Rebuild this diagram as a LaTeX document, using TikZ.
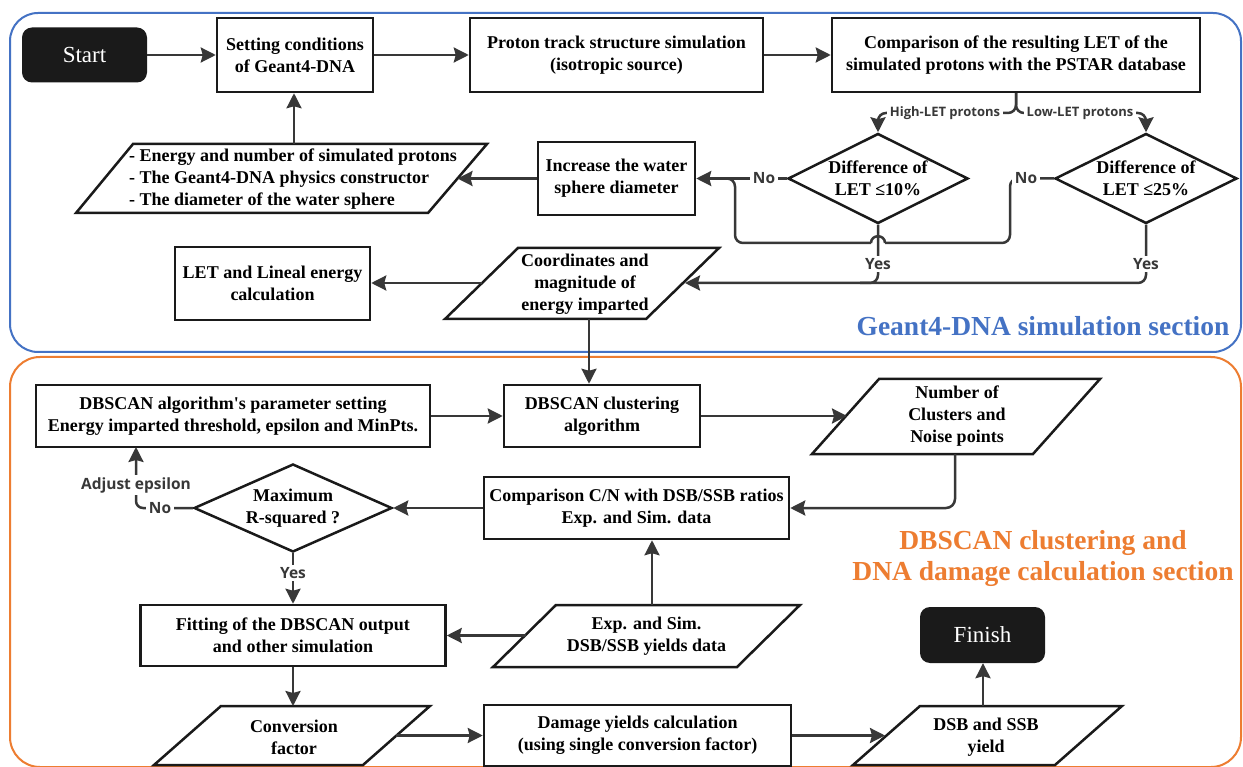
\documentclass[tikz,border=0pt]{standalone}
\usepackage{fontspec}
\usepackage{graphicx}
\setmainfont{Liberation Serif}
\newfontfamily\labfont{Open Sans}
\usetikzlibrary{arrows.meta,shapes.geometric}
\definecolor{gblue}{HTML}{4472C4}
\definecolor{dorange}{HTML}{ED7D31}
\definecolor{ink}{HTML}{1A1A1A}
\definecolor{wire}{HTML}{383838}
\tikzset{
  box/.style={draw=ink, line width=2.5pt, fill=white, align=center, inner sep=0pt, font=\fontsize{18}{22}\selectfont\bfseries},
  dia/.style={diamond, draw=ink, line width=2.5pt, fill=white, align=center, inner sep=0pt, font=\fontsize{18}{22}\selectfont\bfseries},
  pbox/.style={draw=ink, line width=2.5pt, fill=white, line join=miter},
  ptext/.style={align=center, inner sep=0pt, font=\fontsize{18}{22}\selectfont\bfseries},
  term/.style={fill=ink, rounded corners=10pt, text=white, inner sep=0pt, font=\fontsize{23}{26}\selectfont},
  ln/.style={draw=wire, line width=2.5pt},
  arr/.style={ln, -{Stealth[length=15pt,width=15pt,inset=2pt]}},
  lbl/.style={fill=white, text=wire, inner sep=2.5pt, font=\labfont\fontsize{15.5}{17}\selectfont\bfseries},
  lbls/.style={fill=white, text=wire, inner sep=2.5pt, font=\labfont\fontsize{13}{15}\selectfont\bfseries},
  title/.style={font=\fontsize{27.5}{31}\selectfont\bfseries, align=center, inner sep=0pt},
}
\begin{document}
\begin{tikzpicture}[x=1pt,y=-1pt]
\useasboundingbox (0,0) rectangle (1243,767);
\clip (0,0) rectangle (1243,767);
\fill[white] (0,0) rectangle (1243,767);
% section frames
\draw[gblue, line width=2pt, rounded corners=28pt] (10,13) rectangle (1241,352);
\draw[dorange, line width=2pt, rounded corners=30pt] (10,357) rectangle (1241,767);
\node[title, text=gblue] (t1) at (1043,326) {Geant4-DNA simulation section};
\node[title, text=dorange] (t2) at (1043,558) {DBSCAN clustering and\\DNA damage calculation section};

% ---------- Geant4-DNA section ----------
\node[term, minimum width=125, minimum height=55] (start) at (84.5,55) {Start};
\node[box, minimum width=156, minimum height=74] (set) at (295,55) {Setting conditions\\of Geant4-DNA};
\node[box, minimum width=293, minimum height=74] (pro) at (616.5,55) {Proton track structure simulation\\(isotropic source)};
\node[box, minimum width=368, minimum height=74] (cmp) at (1016,55) {Comparison of the resulting LET of the\\simulated protons with the PSTAR database};
\node[dia, aspect=2, minimum width=180, minimum height=90] (d1) at (878,178.5) {Difference of\\LET ≤10\%};
\node[dia, aspect=2, minimum width=182, minimum height=90] (d2) at (1146,178.5) {Difference of\\LET ≤25\%};
\node[box, minimum width=157, minimum height=73] (inc) at (616.5,178.5) {Increase the water\\sphere diameter};
\draw[pbox] (133,144) -- (487,144) -- (428,213) -- (76,213) -- cycle;
\node[ptext, align=left] (inp) at (293,179) {- Energy and number of simulated protons\\- The Geant4-DNA physics constructor\\- The diameter of the water sphere};
\node[box, minimum width=195, minimum height=73] (let) at (272.5,283.5) {LET and Lineal energy\\calculation};
\draw[pbox] (518,248) -- (719,248) -- (646,319) -- (445,319) -- cycle;
\node[ptext] (crd) at (585,284) {Coordinates and\\magnitude of\\energy imparted};
\coordinate (p1t) at (294,144);
\coordinate (p1r) at (457.5,178.5);
\coordinate (p2l) at (482,283);
\coordinate (p2r) at (685,283);
\coordinate (p2b) at (589,319);

\draw[arr] (start) -- (set);
\draw[arr] (set) -- (pro);
\draw[arr] (pro) -- (cmp);
\draw[arr] (p1t) -- (set.south -| p1t);
\draw[arr] (inc.west) -- (p1r);
\draw[arr] (d1.west) -- (inc.east);
\draw[ln, rounded corners=8pt] (d2.west) -| (1010,243) -- (885,243);
\draw[ln] (885,243) .. controls (885,234) and (871,234) .. (871,243);
\draw[ln, rounded corners=8pt] (871,243) -| (735,178.5) -- (720,178.5);
\draw[arr, rounded corners=8pt] (cmp.south) |- (878,113) -- (d1.north);
\draw[arr, rounded corners=8pt] (cmp.south) |- (1146,113) -- (d2.north);
\draw[ln, rounded corners=8pt] (d1.south) |- (860,283);
\draw[arr, rounded corners=8pt] (d2.south) |- (p2r);
\draw[arr] (p2l) -- (let.east |- p2l);
\node[lbl] (no1) at (764,178.5) {No};
\node[lbl] (no2) at (1026,178.5) {No};
\node[lbls] (hi) at (945,113) {High-LET protons};
\node[lbls] (lo) at (1080,113) {Low-LET protons};
\node[lbl] (yes1) at (878,264) {Yes};
\node[lbl] (yes2) at (1146,264) {Yes};

% ---------- DBSCAN section ----------
\node[box, minimum width=394, minimum height=62] (par) at (233,416) {DBSCAN algorithm\textquotesingle s parameter setting\\Energy imparted threshold, epsilon and MinPts.};
\node[box, minimum width=196, minimum height=62] (clu) at (602,416) {DBSCAN clustering\\algorithm};
\draw[pbox] (879,379) -- (1100,379) -- (1033,454) -- (812,454) -- cycle;
\node[ptext] (num) at (957,416.5) {Number of\\Clusters and\\Noise points};
\coordinate (p3l) at (847,416);
\coordinate (p3b) at (955,454);
\node[box, minimum width=305, minimum height=62] (cm2) at (636.5,508) {Comparison C/N with DSB/SSB ratios\\Exp. and Sim. data};
\node[dia, aspect=2.2, minimum width=198, minimum height=88] (d3) at (293,508) {Maximum\\R-squared ?};
\node[box, minimum width=305, minimum height=61] (fit) at (293,635.5) {Fitting of the DBSCAN output\\and other simulation};
\draw[pbox] (556,605) -- (800,605) -- (737,667) -- (493,667) -- cycle;
\node[ptext] (exp) at (646.5,636) {Exp. and Sim.\\DSB/SSB yields data};
\coordinate (p4l) at (525.5,635.5);
\coordinate (p4t) at (652,605);
\draw[pbox] (221,706) -- (430,706) -- (363,765) -- (154,765) -- cycle;
\node[ptext] (cnv) at (294,737) {Conversion\\factor};
\coordinate (p5t) at (293,706);
\coordinate (p5r) at (396,735.5);
\node[box, minimum width=307, minimum height=61] (dmg) at (637.5,735.5) {Damage yields calculation\\(using single conversion factor)};
\draw[pbox] (920,706) -- (1122,706) -- (1055,765) -- (853,765) -- cycle;
\node[ptext] (dsb) at (986,737) {DSB and SSB\\yield};
\coordinate (p6l) at (885,735.5);
\coordinate (p6t) at (983,706);
\node[term, minimum width=125, minimum height=56] (fin) at (982.5,635) {Finish};
\coordinate (adj) at (136,447);

\draw[arr] (p2b) -- (clu.north -| p2b);
\draw[arr] (par) -- (clu);
\draw[arr] (clu.east) -- (p3l);
\draw[arr, rounded corners=9pt] (p3b) |- (cm2.east);
\draw[arr] (cm2.west) -- (d3.east);
\draw[arr, rounded corners=7pt] (d3.west) -| (adj);
\draw[arr] (d3.south) -- (fit.north);
\draw[arr] (p4l) -- (fit.east |- p4l);
\draw[arr] (p4t) -- (cm2.south -| p4t);
\draw[arr] (fit.south) -- (p5t);
\draw[arr] (p5r) -- (dmg.west |- p5r);
\draw[arr] (dmg.east) -- (p6l);
\draw[arr] (p6t) -- (fin.south -| p6t);
\node[lbl] (no3) at (160,508) {No};
\node[lbl] (adjl) at (136,485) {Adjust epsilon};
\node[lbl] (yes3) at (293,573) {Yes};
\end{tikzpicture}
\end{document}
